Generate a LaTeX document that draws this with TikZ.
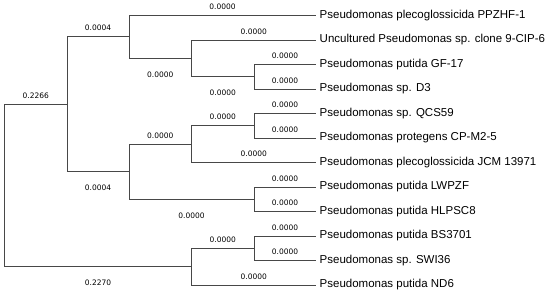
\documentclass[tikz,border=0pt]{standalone}
\usepackage{fontspec}
\setmainfont{Liberation Sans}
\newfontfamily\brfont{DejaVu Sans}
\begin{document}
\begin{tikzpicture}[x=1pt,y=-1pt,
  br/.style={draw=black!72,line width=1pt},
  bl/.style={pos=0.75,font=\brfont\fontsize{7.5}{9}\selectfont,text=black,inner sep=0pt},
  up/.style={bl,yshift=8.7pt},
  dn/.style={bl,yshift=-16.5pt},
  leaf/.style={anchor=west,font=\fontsize{11.5}{13}\selectfont,inner sep=0pt,xshift=3.5pt}]
\useasboundingbox (0,0) rectangle (550,295);
% internal nodes
\coordinate (R) at (4.5,185.5);
\coordinate (A) at (67,104.3);
\coordinate (B) at (129,36.95);
\coordinate (C) at (191.7,58.4);
\coordinate (D) at (254,76.75);
\coordinate (E) at (129,171.7);
\coordinate (F) at (191.7,144.1);
\coordinate (G) at (254,125.75);
\coordinate (H) at (254,199.25);
\coordinate (I) at (191.7,266.6);
\coordinate (J) at (254,248.25);
% leaves
\coordinate (l1) at (316,15.5);
\coordinate (l2) at (316,40);
\coordinate (l3) at (316,64.5);
\coordinate (l4) at (316,89);
\coordinate (l5) at (316,113.5);
\coordinate (l6) at (316,138);
\coordinate (l7) at (316,162.5);
\coordinate (l8) at (316,187);
\coordinate (l9) at (316,211.5);
\coordinate (l10) at (316,236);
\coordinate (l11) at (316,260.5);
\coordinate (l12) at (316,285);
\node[leaf] (t1) at (l1) {Pseudomonas plecoglossicida PPZHF-1};
\node[leaf] (t2) at (l2) {Uncultured Pseudomonas sp. clone 9-CIP-6};
\node[leaf] (t3) at (l3) {Pseudomonas putida GF-17};
\node[leaf] (t4) at (l4) {Pseudomonas sp. D3};
\node[leaf] (t5) at (l5) {Pseudomonas sp. QCS59};
\node[leaf] (t6) at (l6) {Pseudomonas protegens CP-M2-5};
\node[leaf] (t7) at (l7) {Pseudomonas plecoglossicida JCM 13971};
\node[leaf] (t8) at (l8) {Pseudomonas putida LWPZF};
\node[leaf] (t9) at (l9) {Pseudomonas putida HLPSC8};
\node[leaf] (t10) at (l10) {Pseudomonas putida BS3701};
\node[leaf] (t11) at (l11) {Pseudomonas sp. SWI36};
\node[leaf] (t12) at (l12) {Pseudomonas putida ND6};
% branches
\draw[br] (R) |- (A) node[up] {0.2266};
\draw[br] (R) |- (I) node[dn] {0.2270};
\draw[br] (A) |- (B) node[up] {0.0004};
\draw[br] (A) |- (E) node[dn] {0.0004};
\draw[br] (B) |- (l1) node[up] {0.0000};
\draw[br] (B) |- (C) node[dn] {0.0000};
\draw[br] (C) |- (l2) node[up] {0.0000};
\draw[br] (C) |- (D) node[dn] {0.0000};
\draw[br] (D) |- (l3) node[up] {0.0000};
\draw[br] (D) |- (l4) node[up] {0.0000};
\draw[br] (E) |- (F) node[up] {0.0000};
\draw[br] (E) |- (H) node[dn] {0.0000};
\draw[br] (F) |- (G) node[up] {0.0000};
\draw[br] (F) |- (l7) node[up] {0.0000};
\draw[br] (G) |- (l5) node[up] {0.0000};
\draw[br] (G) |- (l6) node[up] {0.0000};
\draw[br] (H) |- (l8) node[up] {0.0000};
\draw[br] (H) |- (l9) node[up] {0.0000};
\draw[br] (I) |- (J) node[up] {0.0000};
\draw[br] (I) |- (l12) node[up] {0.0000};
\draw[br] (J) |- (l10) node[up] {0.0000};
\draw[br] (J) |- (l11) node[up] {0.0000};
\end{tikzpicture}
\end{document}
